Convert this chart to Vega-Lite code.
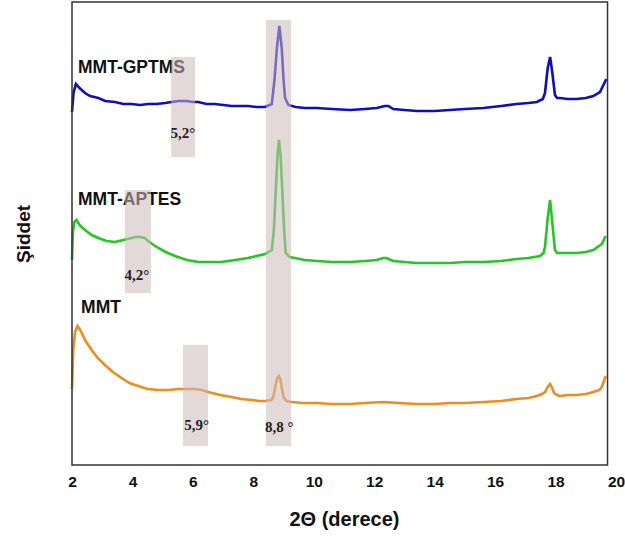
{
  "$schema": "https://vega.github.io/schema/vega-lite/v6.json",
  "width": 544,
  "height": 463,
  "autosize": {"type": "none"},
  "padding": {"left": 72, "top": 2, "right": 9, "bottom": 76},
  "background": "white",
  "config": {"view": {"stroke": null}},
  "datasets": {
    "xrd": [
      {"series":"MMT-GPTMS","theta":2.0,"intensity":353},{"series":"MMT-GPTMS","theta":2.05,"intensity":372},{"series":"MMT-GPTMS","theta":2.13,"intensity":381},{"series":"MMT-GPTMS","theta":2.25,"intensity":377},{"series":"MMT-GPTMS","theta":2.43,"intensity":372},{"series":"MMT-GPTMS","theta":2.6,"intensity":369},{"series":"MMT-GPTMS","theta":2.87,"intensity":367},{"series":"MMT-GPTMS","theta":3.1,"intensity":364},{"series":"MMT-GPTMS","theta":3.42,"intensity":363},{"series":"MMT-GPTMS","theta":3.7,"intensity":361},{"series":"MMT-GPTMS","theta":3.97,"intensity":361},{"series":"MMT-GPTMS","theta":4.25,"intensity":360},{"series":"MMT-GPTMS","theta":4.52,"intensity":361},{"series":"MMT-GPTMS","theta":4.8,"intensity":361},{"series":"MMT-GPTMS","theta":5.08,"intensity":362},{"series":"MMT-GPTMS","theta":5.3,"intensity":363},{"series":"MMT-GPTMS","theta":5.52,"intensity":364},{"series":"MMT-GPTMS","theta":5.79,"intensity":364},{"series":"MMT-GPTMS","theta":6.0,"intensity":363},{"series":"MMT-GPTMS","theta":6.18,"intensity":363},{"series":"MMT-GPTMS","theta":6.45,"intensity":361},{"series":"MMT-GPTMS","theta":6.73,"intensity":361},{"series":"MMT-GPTMS","theta":7.0,"intensity":360},{"series":"MMT-GPTMS","theta":7.28,"intensity":359},{"series":"MMT-GPTMS","theta":7.55,"intensity":359},{"series":"MMT-GPTMS","theta":7.83,"intensity":359},{"series":"MMT-GPTMS","theta":8.1,"intensity":358},{"series":"MMT-GPTMS","theta":8.39,"intensity":358},{"series":"MMT-GPTMS","theta":8.61,"intensity":361},{"series":"MMT-GPTMS","theta":8.7,"intensity":385},{"series":"MMT-GPTMS","theta":8.78,"intensity":417},{"series":"MMT-GPTMS","theta":8.86,"intensity":439},{"series":"MMT-GPTMS","theta":8.94,"intensity":417},{"series":"MMT-GPTMS","theta":9.0,"intensity":385},{"series":"MMT-GPTMS","theta":9.05,"intensity":367},{"series":"MMT-GPTMS","theta":9.16,"intensity":360},{"series":"MMT-GPTMS","theta":9.4,"intensity":358},{"series":"MMT-GPTMS","theta":9.7,"intensity":357},{"series":"MMT-GPTMS","theta":10.1,"intensity":357},{"series":"MMT-GPTMS","theta":10.6,"intensity":356},{"series":"MMT-GPTMS","theta":11.2,"intensity":355},{"series":"MMT-GPTMS","theta":11.7,"intensity":356},{"series":"MMT-GPTMS","theta":12.08,"intensity":357},{"series":"MMT-GPTMS","theta":12.35,"intensity":359},{"series":"MMT-GPTMS","theta":12.47,"intensity":359},{"series":"MMT-GPTMS","theta":12.63,"intensity":356},{"series":"MMT-GPTMS","theta":13.0,"intensity":355},{"series":"MMT-GPTMS","theta":13.41,"intensity":354},{"series":"MMT-GPTMS","theta":14.0,"intensity":354},{"series":"MMT-GPTMS","theta":14.51,"intensity":355},{"series":"MMT-GPTMS","theta":15.0,"intensity":356},{"series":"MMT-GPTMS","theta":15.61,"intensity":357},{"series":"MMT-GPTMS","theta":16.2,"intensity":359},{"series":"MMT-GPTMS","theta":16.71,"intensity":361},{"series":"MMT-GPTMS","theta":17.1,"intensity":362},{"series":"MMT-GPTMS","theta":17.38,"intensity":363},{"series":"MMT-GPTMS","theta":17.58,"intensity":366},{"series":"MMT-GPTMS","theta":17.65,"intensity":372},{"series":"MMT-GPTMS","theta":17.74,"intensity":397},{"series":"MMT-GPTMS","theta":17.82,"intensity":408},{"series":"MMT-GPTMS","theta":17.89,"intensity":393},{"series":"MMT-GPTMS","theta":17.98,"intensity":370},{"series":"MMT-GPTMS","theta":18.05,"intensity":367},{"series":"MMT-GPTMS","theta":18.15,"intensity":367},{"series":"MMT-GPTMS","theta":18.4,"intensity":366},{"series":"MMT-GPTMS","theta":18.7,"intensity":366},{"series":"MMT-GPTMS","theta":19.0,"intensity":367},{"series":"MMT-GPTMS","theta":19.25,"intensity":369},{"series":"MMT-GPTMS","theta":19.47,"intensity":373},{"series":"MMT-GPTMS","theta":19.6,"intensity":381},{"series":"MMT-GPTMS","theta":19.68,"intensity":386},

      {"series":"MMT-APTES","theta":2.0,"intensity":205},{"series":"MMT-APTES","theta":2.03,"intensity":233},{"series":"MMT-APTES","theta":2.08,"intensity":243},{"series":"MMT-APTES","theta":2.15,"intensity":245},{"series":"MMT-APTES","theta":2.25,"intensity":240},{"series":"MMT-APTES","theta":2.43,"intensity":235},{"series":"MMT-APTES","theta":2.65,"intensity":230},{"series":"MMT-APTES","theta":2.87,"intensity":227},{"series":"MMT-APTES","theta":3.15,"intensity":224},{"series":"MMT-APTES","theta":3.42,"intensity":223},{"series":"MMT-APTES","theta":3.7,"intensity":225},{"series":"MMT-APTES","theta":3.97,"intensity":227},{"series":"MMT-APTES","theta":4.1,"intensity":228},{"series":"MMT-APTES","theta":4.25,"intensity":228},{"series":"MMT-APTES","theta":4.4,"intensity":227},{"series":"MMT-APTES","theta":4.52,"intensity":224},{"series":"MMT-APTES","theta":4.7,"intensity":220},{"series":"MMT-APTES","theta":4.86,"intensity":217},{"series":"MMT-APTES","theta":5.1,"intensity":213},{"series":"MMT-APTES","theta":5.41,"intensity":209},{"series":"MMT-APTES","theta":5.8,"intensity":205},{"series":"MMT-APTES","theta":6.18,"intensity":203},{"series":"MMT-APTES","theta":6.55,"intensity":203},{"series":"MMT-APTES","theta":6.95,"intensity":203},{"series":"MMT-APTES","theta":7.4,"intensity":205},{"series":"MMT-APTES","theta":7.83,"intensity":207},{"series":"MMT-APTES","theta":8.1,"intensity":209},{"series":"MMT-APTES","theta":8.39,"intensity":211},{"series":"MMT-APTES","theta":8.61,"intensity":215},{"series":"MMT-APTES","theta":8.68,"intensity":235},{"series":"MMT-APTES","theta":8.74,"intensity":273},{"series":"MMT-APTES","theta":8.8,"intensity":310},{"series":"MMT-APTES","theta":8.85,"intensity":325},{"series":"MMT-APTES","theta":8.9,"intensity":310},{"series":"MMT-APTES","theta":8.96,"intensity":273},{"series":"MMT-APTES","theta":9.02,"intensity":235},{"series":"MMT-APTES","theta":9.07,"intensity":212},{"series":"MMT-APTES","theta":9.2,"intensity":208},{"series":"MMT-APTES","theta":9.38,"intensity":207},{"series":"MMT-APTES","theta":9.7,"intensity":205},{"series":"MMT-APTES","theta":10.1,"intensity":204},{"series":"MMT-APTES","theta":10.6,"intensity":203},{"series":"MMT-APTES","theta":11.2,"intensity":203},{"series":"MMT-APTES","theta":11.7,"intensity":204},{"series":"MMT-APTES","theta":12.08,"intensity":205},{"series":"MMT-APTES","theta":12.3,"intensity":207},{"series":"MMT-APTES","theta":12.41,"intensity":207},{"series":"MMT-APTES","theta":12.55,"intensity":205},{"series":"MMT-APTES","theta":12.63,"intensity":204},{"series":"MMT-APTES","theta":13.0,"intensity":203},{"series":"MMT-APTES","theta":13.41,"intensity":202},{"series":"MMT-APTES","theta":14.0,"intensity":202},{"series":"MMT-APTES","theta":14.51,"intensity":202},{"series":"MMT-APTES","theta":15.0,"intensity":203},{"series":"MMT-APTES","theta":15.61,"intensity":203},{"series":"MMT-APTES","theta":16.2,"intensity":204},{"series":"MMT-APTES","theta":16.71,"intensity":206},{"series":"MMT-APTES","theta":17.1,"intensity":207},{"series":"MMT-APTES","theta":17.49,"intensity":209},{"series":"MMT-APTES","theta":17.6,"intensity":212},{"series":"MMT-APTES","theta":17.65,"intensity":218},{"series":"MMT-APTES","theta":17.74,"intensity":247},{"series":"MMT-APTES","theta":17.82,"intensity":265},{"series":"MMT-APTES","theta":17.89,"intensity":243},{"series":"MMT-APTES","theta":17.98,"intensity":215},{"series":"MMT-APTES","theta":18.05,"intensity":212},{"series":"MMT-APTES","theta":18.15,"intensity":212},{"series":"MMT-APTES","theta":18.4,"intensity":212},{"series":"MMT-APTES","theta":18.7,"intensity":212},{"series":"MMT-APTES","theta":19.0,"intensity":213},{"series":"MMT-APTES","theta":19.25,"intensity":215},{"series":"MMT-APTES","theta":19.53,"intensity":221},{"series":"MMT-APTES","theta":19.66,"intensity":229},

      {"series":"MMT","theta":2.0,"intensity":76},{"series":"MMT","theta":2.04,"intensity":115},{"series":"MMT","theta":2.1,"intensity":133},{"series":"MMT","theta":2.18,"intensity":139},{"series":"MMT","theta":2.25,"intensity":136},{"series":"MMT","theta":2.32,"intensity":132},{"series":"MMT","theta":2.45,"intensity":124},{"series":"MMT","theta":2.65,"intensity":115},{"series":"MMT","theta":2.85,"intensity":107},{"series":"MMT","theta":3.09,"intensity":100},{"series":"MMT","theta":3.35,"intensity":93},{"series":"MMT","theta":3.64,"intensity":87},{"series":"MMT","theta":3.9,"intensity":82},{"series":"MMT","theta":4.19,"intensity":79},{"series":"MMT","theta":4.5,"intensity":76},{"series":"MMT","theta":4.86,"intensity":75},{"series":"MMT","theta":5.2,"intensity":75},{"series":"MMT","theta":5.52,"intensity":76},{"series":"MMT","theta":5.8,"intensity":76},{"series":"MMT","theta":6.07,"intensity":76},{"series":"MMT","theta":6.3,"intensity":75},{"series":"MMT","theta":6.51,"intensity":73},{"series":"MMT","theta":6.9,"intensity":70},{"series":"MMT","theta":7.28,"intensity":68},{"series":"MMT","theta":7.6,"intensity":66},{"series":"MMT","theta":7.95,"intensity":65},{"series":"MMT","theta":8.2,"intensity":64},{"series":"MMT","theta":8.39,"intensity":64},{"series":"MMT","theta":8.6,"intensity":65},{"series":"MMT","theta":8.66,"intensity":68},{"series":"MMT","theta":8.73,"intensity":79},{"series":"MMT","theta":8.79,"intensity":87},{"series":"MMT","theta":8.84,"intensity":89},{"series":"MMT","theta":8.9,"intensity":85},{"series":"MMT","theta":8.95,"intensity":76},{"series":"MMT","theta":9.0,"intensity":68},{"series":"MMT","theta":9.1,"intensity":64},{"series":"MMT","theta":9.27,"intensity":63},{"series":"MMT","theta":9.6,"intensity":62},{"series":"MMT","theta":10.1,"intensity":62},{"series":"MMT","theta":10.6,"intensity":61},{"series":"MMT","theta":11.2,"intensity":61},{"series":"MMT","theta":11.7,"intensity":62},{"series":"MMT","theta":12.3,"intensity":63},{"series":"MMT","theta":12.8,"intensity":62},{"series":"MMT","theta":13.41,"intensity":61},{"series":"MMT","theta":14.0,"intensity":61},{"series":"MMT","theta":14.51,"intensity":62},{"series":"MMT","theta":15.0,"intensity":62},{"series":"MMT","theta":15.61,"intensity":63},{"series":"MMT","theta":16.2,"intensity":64},{"series":"MMT","theta":16.71,"intensity":66},{"series":"MMT","theta":17.1,"intensity":67},{"series":"MMT","theta":17.38,"intensity":69},{"series":"MMT","theta":17.55,"intensity":71},{"series":"MMT","theta":17.65,"intensity":73},{"series":"MMT","theta":17.74,"intensity":78},{"series":"MMT","theta":17.82,"intensity":81},{"series":"MMT","theta":17.9,"intensity":76},{"series":"MMT","theta":17.95,"intensity":72},{"series":"MMT","theta":18.05,"intensity":70},{"series":"MMT","theta":18.15,"intensity":69},{"series":"MMT","theta":18.4,"intensity":70},{"series":"MMT","theta":18.7,"intensity":70},{"series":"MMT","theta":19.0,"intensity":71},{"series":"MMT","theta":19.25,"intensity":73},{"series":"MMT","theta":19.45,"intensity":75},{"series":"MMT","theta":19.53,"intensity":78},{"series":"MMT","theta":19.66,"intensity":89}
    ],
    "frame": [{"x0": 2, "x1": 19.72, "y0": 0, "y1": 463}],
    "bands": [
      {"peak": "5,2", "x0": 5.28, "x1": 6.07, "y0": 308, "y1": 408},
      {"peak": "8,8", "x0": 8.42, "x1": 9.25, "y0": 19, "y1": 445},
      {"peak": "4,2", "x0": 3.75, "x1": 4.61, "y0": 172, "y1": 275},
      {"peak": "5,9", "x0": 5.67, "x1": 6.5, "y0": 19, "y1": 120}
    ],
    "peakLabels": [
      {"label": "5,2°", "theta": 5.67, "intensity": 332},
      {"label": "4,2°", "theta": 4.15, "intensity": 190},
      {"label": "5,9°", "theta": 6.12, "intensity": 40},
      {"label": "8,8 °", "theta": 8.86, "intensity": 38}
    ],
    "seriesLabels": [
      {"label": "MMT-GPTMS", "theta": 2.2, "intensity": 397},
      {"label": "MMT-APTES", "theta": 2.2, "intensity": 265},
      {"label": "MMT", "theta": 2.3, "intensity": 157}
    ]
  },
  "layer": [
    {
      "data": {"name": "xrd"},
      "mark": {"type": "line", "strokeWidth": 2.6, "interpolate": "linear"},
      "encoding": {
        "x": {
          "field": "theta", "type": "quantitative",
          "scale": {"domain": [2, 20], "nice": false, "zero": false},
          "axis": {
            "values": [2, 4, 6, 8, 10, 12, 14, 16, 18, 20],
            "grid": false, "domain": false, "ticks": false, "tickSize": 0,
            "labelFont": "Liberation Sans", "labelFontWeight": "bold", "labelFontSize": 15.5,
            "labelColor": "#111", "labelPadding": 9, "labelFlush": false, "labelOverlap": false,
            "title": "2Θ (derece)", "titleFont": "Liberation Sans", "titleFontWeight": "bold",
            "titleFontSize": 20, "titleColor": "#111", "titlePadding": 20
          }
        },
        "y": {
          "field": "intensity", "type": "quantitative",
          "scale": {"domain": [0, 463], "nice": false, "zero": false},
          "axis": {
            "grid": false, "domain": false, "ticks": false, "labels": false,
            "title": "Şiddet", "titleFont": "Liberation Sans", "titleFontWeight": "bold",
            "titleFontSize": 19, "titleColor": "#111", "titlePadding": 39
          }
        },
        "color": {
          "field": "series", "type": "nominal",
          "scale": {"domain": ["MMT-GPTMS", "MMT-APTES", "MMT"], "range": ["#0e0ec0", "#22c822", "#ee8c1e"]},
          "legend": null
        }
      }
    },
    {
      "data": {"name": "seriesLabels"},
      "mark": {"type": "text", "align": "left", "baseline": "middle", "font": "Liberation Sans", "fontWeight": "bold", "fontSize": 17.5, "color": "#111"},
      "encoding": {
        "x": {"field": "theta", "type": "quantitative"},
        "y": {"field": "intensity", "type": "quantitative"},
        "text": {"field": "label"}
      }
    },
    {
      "data": {"name": "bands"},
      "mark": {"type": "rect", "color": "#cdbaba", "opacity": 0.55},
      "encoding": {
        "x": {"field": "x0", "type": "quantitative"},
        "x2": {"field": "x1"},
        "y": {"field": "y0", "type": "quantitative"},
        "y2": {"field": "y1"}
      }
    },
    {
      "data": {"name": "peakLabels"},
      "mark": {"type": "text", "align": "center", "baseline": "middle", "font": "Liberation Serif", "fontWeight": "bold", "fontSize": 15, "color": "#222"},
      "encoding": {
        "x": {"field": "theta", "type": "quantitative"},
        "y": {"field": "intensity", "type": "quantitative"},
        "text": {"field": "label"}
      }
    },
    {
      "data": {"name": "frame"},
      "mark": {"type": "rect", "fill": null, "fillOpacity": 0, "stroke": "#333", "strokeWidth": 1.5},
      "encoding": {
        "x": {"field": "x0", "type": "quantitative"},
        "x2": {"field": "x1"},
        "y": {"field": "y0", "type": "quantitative"},
        "y2": {"field": "y1"}
      }
    }
  ]
}
